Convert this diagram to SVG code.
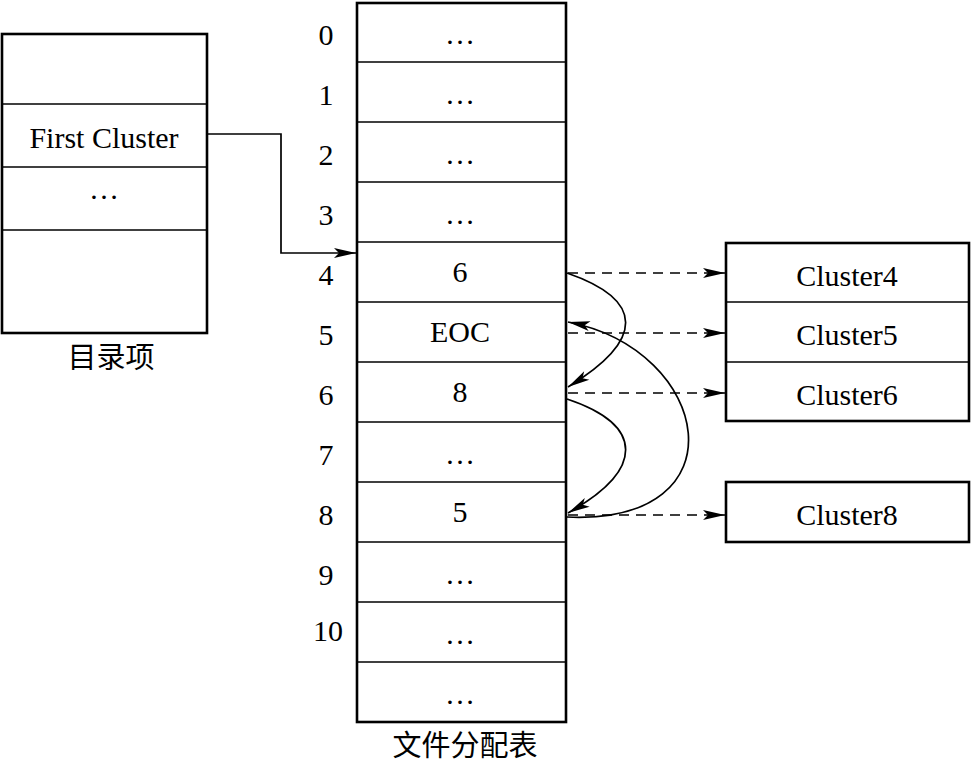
<svg xmlns="http://www.w3.org/2000/svg" width="972" height="764" viewBox="0 0 972 764">
<style>
.box{fill:#fff;stroke:#000;stroke-width:2.6}
.ln{stroke:#000;stroke-width:1.7;fill:none}
.t{font-family:"Liberation Serif","Times New Roman",serif;font-size:30px;fill:#000;text-anchor:middle}
.cjk{font-family:"Liberation Serif","Noto Sans CJK SC",serif;font-size:29px;fill:#000;text-anchor:middle}
.c{stroke:#000;stroke-width:1.7;fill:none}
.d{stroke:#000;stroke-width:1.7;fill:none;stroke-dasharray:10 7}
</style>
<defs>
<marker id="ah" markerUnits="userSpaceOnUse" markerWidth="24" markerHeight="12" refX="22" refY="5" orient="auto" overflow="visible">
<path d="M0,0 L22,5 L0,10 L5,5 Z" fill="#000"/>
</marker>
</defs>

<g id="dir">
<rect class="box" x="2" y="34" width="205" height="299"/>
<line class="ln" x1="2" y1="104" x2="207" y2="104"/>
<line class="ln" x1="2" y1="167" x2="207" y2="167"/>
<line class="ln" x1="2" y1="230" x2="207" y2="230"/>
<text class="t" x="104" y="148">First Cluster</text>
<text class="t" x="104" y="199">…</text>
<text class="cjk" x="111" y="368">目录项</text>
</g>

<g id="fat">
<rect class="box" x="357" y="3" width="209" height="719"/>
<line class="ln" x1="357" y1="62" x2="566" y2="62"/>
<line class="ln" x1="357" y1="122" x2="566" y2="122"/>
<line class="ln" x1="357" y1="182" x2="566" y2="182"/>
<line class="ln" x1="357" y1="242" x2="566" y2="242"/>
<line class="ln" x1="357" y1="302" x2="566" y2="302"/>
<line class="ln" x1="357" y1="362" x2="566" y2="362"/>
<line class="ln" x1="357" y1="422" x2="566" y2="422"/>
<line class="ln" x1="357" y1="482" x2="566" y2="482"/>
<line class="ln" x1="357" y1="542" x2="566" y2="542"/>
<line class="ln" x1="357" y1="602" x2="566" y2="602"/>
<line class="ln" x1="357" y1="662" x2="566" y2="662"/>
<text class="t" x="460" y="44">…</text>
<text class="t" x="460" y="104">…</text>
<text class="t" x="460" y="164">…</text>
<text class="t" x="460" y="224">…</text>
<text class="t" x="460" y="282">6</text>
<text class="t" x="460" y="342">EOC</text>
<text class="t" x="460" y="402">8</text>
<text class="t" x="460" y="464">…</text>
<text class="t" x="460" y="522">5</text>
<text class="t" x="460" y="584">…</text>
<text class="t" x="460" y="644">…</text>
<text class="t" x="460" y="704">…</text>
<text class="t" x="326" y="45">0</text>
<text class="t" x="326" y="105">1</text>
<text class="t" x="326" y="165">2</text>
<text class="t" x="326" y="225">3</text>
<text class="t" x="326" y="285">4</text>
<text class="t" x="326" y="345">5</text>
<text class="t" x="326" y="405">6</text>
<text class="t" x="326" y="465">7</text>
<text class="t" x="326" y="525">8</text>
<text class="t" x="326" y="585">9</text>
<text class="t" x="328" y="641">10</text>
<text class="cjk" x="465" y="756">文件分配表</text>
</g>

<g id="clusters456">
<rect class="box" x="726" y="243" width="243" height="178"/>
<line class="ln" x1="726" y1="302" x2="969" y2="302"/>
<line class="ln" x1="726" y1="362" x2="969" y2="362"/>
<text class="t" x="847" y="286">Cluster4</text>
<text class="t" x="847" y="345">Cluster5</text>
<text class="t" x="847" y="405">Cluster6</text>
</g>

<g id="cluster8">
<rect class="box" x="726" y="482" width="243" height="60"/>
<text class="t" x="847" y="525">Cluster8</text>
</g>

<g id="connectors">
<path class="c" d="M207,134 H281 V253 H356" marker-end="url(#ah)"/>
<path class="d" d="M568,273 H725" marker-end="url(#ah)"/>
<path class="d" d="M568,333 H725" marker-end="url(#ah)"/>
<path class="d" d="M568,393 H725" marker-end="url(#ah)"/>
<path class="d" d="M568,515 H725" marker-end="url(#ah)"/>
<path class="c" d="M567,273 C645,300 645,340 568,387" marker-end="url(#ah)"/>
<path class="c" d="M567,399 C645,425 645,470 568,513" marker-end="url(#ah)"/>
<path class="c" d="M567,517 C745,525 712,350 568,322" marker-end="url(#ah)"/>
</g>
</svg>
